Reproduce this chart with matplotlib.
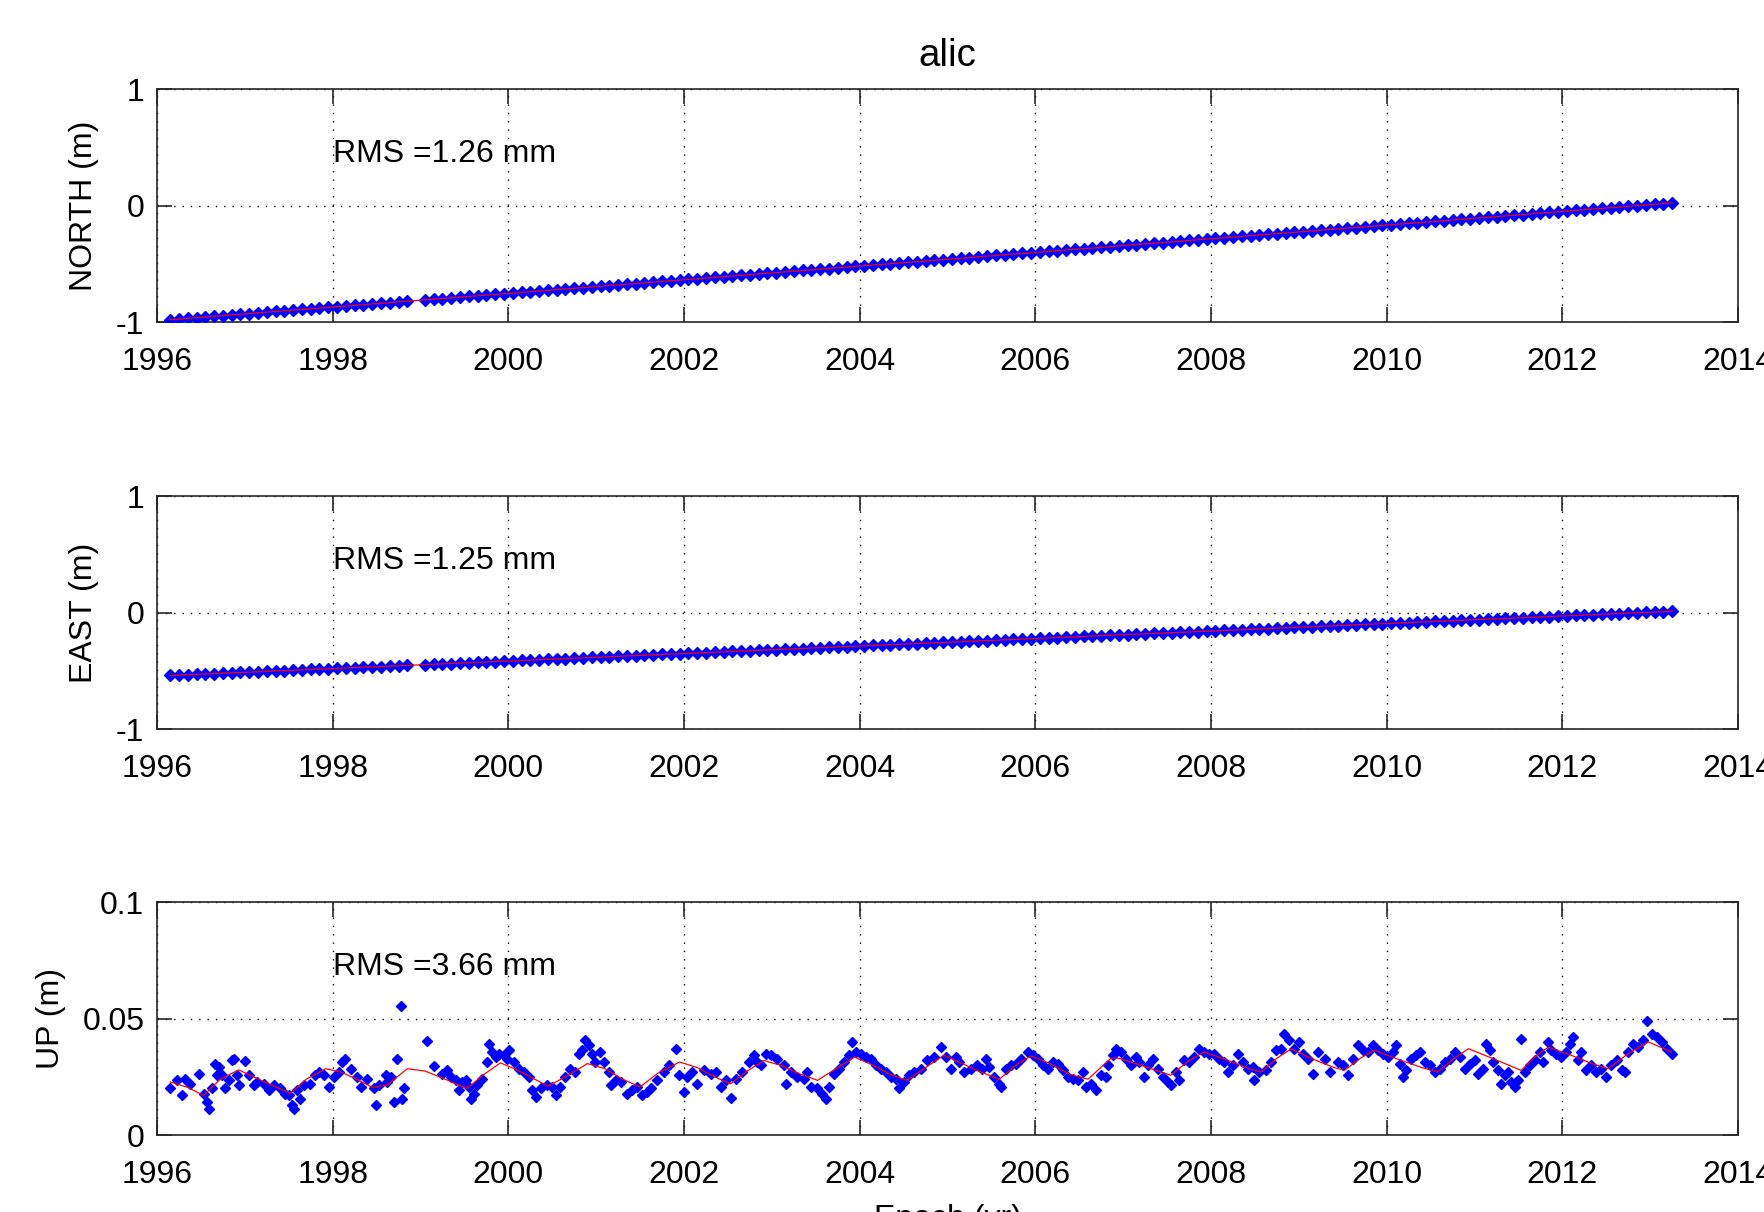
import matplotlib
matplotlib.use('Agg')
import matplotlib.pyplot as plt

plt.rcParams['font.family'] = ['Liberation Sans', 'DejaVu Sans']
plt.rcParams['font.size'] = 23
plt.rcParams['axes.unicode_minus'] = False

station = 'alic'
xticks = [1996, 1998, 2000, 2002, 2004, 2006, 2008, 2010, 2012, 2014]

# epochs of north / east solutions (yr)
ne_t = [
    1996.15, 1996.25, 1996.35, 1996.45, 1996.55, 1996.65, 1996.75, 1996.85, 1996.95,
    1997.05, 1997.15, 1997.25, 1997.35, 1997.45, 1997.55, 1997.65, 1997.75, 1997.85, 1997.95,
    1998.05, 1998.15, 1998.25, 1998.35, 1998.45, 1998.55, 1998.65, 1998.75, 1998.85,
    1999.05, 1999.15, 1999.25, 1999.35, 1999.45, 1999.55, 1999.65, 1999.75, 1999.85, 1999.95,
    2000.05, 2000.15, 2000.25, 2000.35, 2000.45, 2000.55, 2000.65, 2000.75, 2000.85, 2000.95,
    2001.05, 2001.15, 2001.25, 2001.35, 2001.45, 2001.55, 2001.65, 2001.75, 2001.85, 2001.95,
    2002.05, 2002.15, 2002.25, 2002.35, 2002.45, 2002.55, 2002.65, 2002.75, 2002.85, 2002.95,
    2003.05, 2003.15, 2003.25, 2003.35, 2003.45, 2003.55, 2003.65, 2003.75, 2003.85, 2003.95,
    2004.05, 2004.15, 2004.25, 2004.35, 2004.45, 2004.55, 2004.65, 2004.75, 2004.85, 2004.95,
    2005.05, 2005.15, 2005.25, 2005.35, 2005.45, 2005.55, 2005.65, 2005.75, 2005.85, 2005.95,
    2006.05, 2006.15, 2006.25, 2006.35, 2006.45, 2006.55, 2006.65, 2006.75, 2006.85, 2006.95,
    2007.05, 2007.15, 2007.25, 2007.35, 2007.45, 2007.55, 2007.65, 2007.75, 2007.85, 2007.95,
    2008.05, 2008.15, 2008.25, 2008.35, 2008.45, 2008.55, 2008.65, 2008.75, 2008.85, 2008.95,
    2009.05, 2009.15, 2009.25, 2009.35, 2009.45, 2009.55, 2009.65, 2009.75, 2009.85, 2009.95,
    2010.05, 2010.15, 2010.25, 2010.35, 2010.45, 2010.55, 2010.65, 2010.75, 2010.85, 2010.95,
    2011.05, 2011.15, 2011.25, 2011.35, 2011.45, 2011.55, 2011.65, 2011.75, 2011.85, 2011.95,
    2012.05, 2012.15, 2012.25, 2012.35, 2012.45, 2012.55, 2012.65, 2012.75, 2012.85, 2012.95,
    2013.05, 2013.15, 2013.25]

north = [
    -0.980, -0.974, -0.968, -0.962, -0.957, -0.951, -0.945, -0.939, -0.933,
    -0.927, -0.921, -0.915, -0.909, -0.904, -0.898, -0.892, -0.886, -0.880, -0.874,
    -0.868, -0.863, -0.857, -0.851, -0.845, -0.839, -0.833, -0.827, -0.821,
    -0.810, -0.804, -0.798, -0.792, -0.786, -0.780, -0.774, -0.769, -0.763, -0.757,
    -0.751, -0.745, -0.739, -0.734, -0.728, -0.722, -0.716, -0.710, -0.704, -0.698,
    -0.692, -0.687, -0.681, -0.675, -0.669, -0.663, -0.657, -0.651, -0.645, -0.640,
    -0.634, -0.628, -0.622, -0.616, -0.610, -0.604, -0.599, -0.593, -0.587, -0.581,
    -0.575, -0.569, -0.563, -0.557, -0.552, -0.546, -0.540, -0.534, -0.528, -0.522,
    -0.516, -0.510, -0.505, -0.499, -0.493, -0.487, -0.481, -0.475, -0.469, -0.463,
    -0.458, -0.452, -0.446, -0.440, -0.434, -0.428, -0.422, -0.416, -0.411, -0.405,
    -0.399, -0.393, -0.387, -0.381, -0.375, -0.369, -0.364, -0.358, -0.352, -0.346,
    -0.340, -0.334, -0.328, -0.323, -0.317, -0.311, -0.305, -0.299, -0.293, -0.287,
    -0.281, -0.276, -0.270, -0.264, -0.258, -0.252, -0.246, -0.240, -0.235, -0.229,
    -0.223, -0.217, -0.211, -0.205, -0.199, -0.193, -0.188, -0.182, -0.176, -0.170,
    -0.164, -0.158, -0.152, -0.147, -0.141, -0.135, -0.129, -0.123, -0.117, -0.111,
    -0.105, -0.100, -0.094, -0.088, -0.082, -0.076, -0.070, -0.064, -0.058, -0.053,
    -0.047, -0.041, -0.035, -0.029, -0.023, -0.017, -0.012, -0.006, 0.000, 0.006,
    0.012, 0.018, 0.024]

east = [
    -0.540, -0.537, -0.534, -0.530, -0.527, -0.524, -0.521, -0.517, -0.514,
    -0.511, -0.508, -0.504, -0.501, -0.498, -0.495, -0.492, -0.488, -0.485, -0.482,
    -0.479, -0.476, -0.472, -0.469, -0.466, -0.463, -0.459, -0.456, -0.453,
    -0.446, -0.443, -0.440, -0.437, -0.433, -0.430, -0.427, -0.424, -0.420, -0.417,
    -0.414, -0.411, -0.408, -0.404, -0.401, -0.398, -0.395, -0.391, -0.388, -0.385,
    -0.382, -0.379, -0.375, -0.372, -0.369, -0.366, -0.362, -0.359, -0.356, -0.353,
    -0.350, -0.346, -0.343, -0.340, -0.337, -0.333, -0.330, -0.327, -0.324, -0.320,
    -0.317, -0.314, -0.311, -0.308, -0.304, -0.301, -0.298, -0.295, -0.291, -0.288,
    -0.285, -0.282, -0.279, -0.275, -0.272, -0.269, -0.266, -0.262, -0.259, -0.256,
    -0.253, -0.250, -0.246, -0.243, -0.240, -0.237, -0.233, -0.230, -0.227, -0.224,
    -0.221, -0.217, -0.214, -0.211, -0.208, -0.204, -0.201, -0.198, -0.195, -0.191,
    -0.188, -0.185, -0.182, -0.179, -0.175, -0.172, -0.169, -0.166, -0.162, -0.159,
    -0.156, -0.153, -0.150, -0.146, -0.143, -0.140, -0.137, -0.133, -0.130, -0.127,
    -0.124, -0.121, -0.117, -0.114, -0.111, -0.108, -0.104, -0.101, -0.098, -0.095,
    -0.092, -0.088, -0.085, -0.082, -0.079, -0.075, -0.072, -0.069, -0.066, -0.062,
    -0.059, -0.056, -0.053, -0.050, -0.046, -0.043, -0.040, -0.037, -0.033, -0.030,
    -0.027, -0.024, -0.021, -0.017, -0.014, -0.011, -0.008, -0.004, -0.001, 0.002,
    0.005, 0.008, 0.012]

# up component, epochs and values (m)
up_t = [
    1996.152, 1996.228, 1996.285, 1996.323, 1996.380, 1996.475, 1996.532, 1996.570, 1996.589, 1996.627,
    1996.665, 1996.684, 1996.703, 1996.741, 1996.779, 1996.817, 1996.855, 1996.874, 1996.912, 1996.931,
    1997.007, 1997.045, 1997.102, 1997.140, 1997.216, 1997.273, 1997.330, 1997.406, 1997.462, 1997.500,
    1997.538, 1997.557, 1997.595, 1997.633, 1997.671, 1997.747, 1997.804, 1997.842, 1997.899, 1997.956,
    1998.013, 1998.070, 1998.108, 1998.146, 1998.203, 1998.279, 1998.317, 1998.393, 1998.469, 1998.488,
    1998.526, 1998.602, 1998.621, 1998.659, 1998.697, 1998.735, 1998.773, 1998.792, 1998.811,
    1999.077, 1999.153, 1999.248, 1999.305, 1999.343, 1999.400, 1999.438, 1999.476, 1999.514, 1999.552,
    1999.571, 1999.609, 1999.647, 1999.704, 1999.761, 1999.780, 1999.818, 1999.856, 1999.894, 1999.951,
    1999.989, 2000.008, 2000.065, 2000.122, 2000.178, 2000.236, 2000.274, 2000.311, 2000.368, 2000.444,
    2000.501, 2000.539, 2000.593, 2000.650, 2000.707, 2000.764, 2000.802, 2000.840, 2000.878, 2000.916,
    2000.954, 2000.992, 2001.049, 2001.087, 2001.144, 2001.163, 2001.220, 2001.277, 2001.353, 2001.410,
    2001.467, 2001.524, 2001.581, 2001.619, 2001.695, 2001.771, 2001.828, 2001.903, 2001.942, 2001.998,
    2002.037, 2002.093, 2002.150, 2002.226, 2002.302, 2002.359, 2002.416, 2002.473, 2002.530, 2002.587,
    2002.663, 2002.739, 2002.796, 2002.834, 2002.872, 2002.929, 2002.986, 2003.062, 2003.138, 2003.157,
    2003.214, 2003.290, 2003.366, 2003.404, 2003.442, 2003.518, 2003.575, 2003.613, 2003.651, 2003.708,
    2003.765, 2003.822, 2003.879, 2003.917, 2003.955, 2004.012, 2004.069, 2004.126, 2004.183, 2004.240,
    2004.297, 2004.354, 2004.411, 2004.449, 2004.506, 2004.563, 2004.620, 2004.696, 2004.771, 2004.847,
    2004.923, 2004.980, 2005.037, 2005.094, 2005.132, 2005.189, 2005.265, 2005.341, 2005.398, 2005.436,
    2005.474, 2005.531, 2005.588, 2005.607, 2005.664, 2005.721, 2005.778, 2005.835, 2005.911, 2005.968,
    2006.025, 2006.082, 2006.139, 2006.196, 2006.253, 2006.310, 2006.366, 2006.423, 2006.480, 2006.537,
    2006.575, 2006.632, 2006.689, 2006.746, 2006.803, 2006.822, 2006.879, 2006.917, 2006.974, 2007.031,
    2007.088, 2007.145, 2007.183, 2007.240, 2007.278, 2007.335, 2007.392, 2007.449, 2007.506, 2007.544,
    2007.601, 2007.639, 2007.696, 2007.753, 2007.810, 2007.867, 2007.924, 2007.981, 2008.038, 2008.095,
    2008.152, 2008.190, 2008.247, 2008.304, 2008.361, 2008.418, 2008.475, 2008.494, 2008.551, 2008.627,
    2008.684, 2008.741, 2008.798, 2008.836, 2008.893, 2008.950, 2009.007, 2009.045, 2009.102, 2009.159,
    2009.216, 2009.292, 2009.349, 2009.444, 2009.501, 2009.558, 2009.615, 2009.672, 2009.729, 2009.786,
    2009.843, 2009.900, 2009.957, 2010.014, 2010.071, 2010.109, 2010.147, 2010.185, 2010.223, 2010.280,
    2010.337, 2010.375, 2010.432, 2010.489, 2010.546, 2010.603, 2010.660, 2010.717, 2010.774, 2010.830,
    2010.887, 2010.944, 2011.001, 2011.039, 2011.096, 2011.134, 2011.172, 2011.210, 2011.267, 2011.305,
    2011.343, 2011.381, 2011.419, 2011.457, 2011.495, 2011.533, 2011.571, 2011.628, 2011.685, 2011.742,
    2011.780, 2011.837, 2011.875, 2011.932, 2011.989, 2012.046, 2012.084, 2012.122, 2012.179, 2012.217,
    2012.274, 2012.331, 2012.388, 2012.445, 2012.502, 2012.559, 2012.616, 2012.673, 2012.711, 2012.749,
    2012.806, 2012.863, 2012.920, 2012.958, 2013.015, 2013.072, 2013.129, 2013.186, 2013.243]

up = [
    0.0202, 0.0235, 0.0174, 0.0242, 0.0221, 0.0264, 0.0178, 0.0142, 0.0114, 0.0200,
    0.0307, 0.0257, 0.0293, 0.0257, 0.0200, 0.0235, 0.0321, 0.0328, 0.0257, 0.0214,
    0.0317, 0.0257, 0.0214, 0.0228, 0.0221, 0.0192, 0.0214, 0.0202, 0.0178, 0.0171,
    0.0128, 0.0114, 0.0192, 0.0157, 0.0214, 0.0221, 0.0257, 0.0271, 0.0257, 0.0207,
    0.0250, 0.0271, 0.0314, 0.0328, 0.0285, 0.0250, 0.0207, 0.0242, 0.0200, 0.0128,
    0.0214, 0.0257, 0.0228, 0.0250, 0.0142, 0.0328, 0.0554, 0.0157, 0.0200,
    0.0404, 0.0297, 0.0264, 0.0278, 0.0250, 0.0235, 0.0192, 0.0228, 0.0235, 0.0207,
    0.0157, 0.0178, 0.0214, 0.0242, 0.0314, 0.0393, 0.0357, 0.0335, 0.0350, 0.0343,
    0.0328, 0.0364, 0.0314, 0.0285, 0.0271, 0.0250, 0.0192, 0.0164, 0.0200, 0.0214,
    0.0207, 0.0171, 0.0207, 0.0250, 0.0285, 0.0271, 0.0350, 0.0364, 0.0407, 0.0386,
    0.0350, 0.0314, 0.0357, 0.0314, 0.0271, 0.0214, 0.0235, 0.0228, 0.0178, 0.0192,
    0.0207, 0.0171, 0.0185, 0.0200, 0.0235, 0.0271, 0.0300, 0.0368, 0.0257, 0.0185,
    0.0250, 0.0271, 0.0221, 0.0278, 0.0264, 0.0271, 0.0207, 0.0235, 0.0161, 0.0242,
    0.0271, 0.0314, 0.0343, 0.0314, 0.0300, 0.0350, 0.0343, 0.0328, 0.0300, 0.0221,
    0.0271, 0.0250, 0.0242, 0.0271, 0.0207, 0.0200, 0.0178, 0.0157, 0.0207, 0.0264,
    0.0285, 0.0314, 0.0343, 0.0400, 0.0357, 0.0350, 0.0335, 0.0328, 0.0300, 0.0285,
    0.0271, 0.0250, 0.0242, 0.0200, 0.0228, 0.0257, 0.0271, 0.0285, 0.0321, 0.0335,
    0.0378, 0.0335, 0.0285, 0.0335, 0.0314, 0.0271, 0.0285, 0.0300, 0.0285, 0.0328,
    0.0293, 0.0250, 0.0221, 0.0207, 0.0285, 0.0300, 0.0307, 0.0328, 0.0357, 0.0343,
    0.0328, 0.0300, 0.0285, 0.0314, 0.0307, 0.0278, 0.0250, 0.0242, 0.0235, 0.0271,
    0.0207, 0.0221, 0.0192, 0.0257, 0.0250, 0.0300, 0.0343, 0.0371, 0.0357, 0.0328,
    0.0300, 0.0335, 0.0314, 0.0250, 0.0300, 0.0328, 0.0285, 0.0250, 0.0228, 0.0214,
    0.0271, 0.0235, 0.0321, 0.0314, 0.0335, 0.0371, 0.0357, 0.0350, 0.0350, 0.0328,
    0.0314, 0.0271, 0.0300, 0.0350, 0.0314, 0.0285, 0.0293, 0.0235, 0.0271, 0.0278,
    0.0314, 0.0364, 0.0371, 0.0436, 0.0407, 0.0371, 0.0400, 0.0350, 0.0328, 0.0264,
    0.0357, 0.0328, 0.0271, 0.0314, 0.0300, 0.0257, 0.0328, 0.0386, 0.0364, 0.0357,
    0.0386, 0.0364, 0.0350, 0.0335, 0.0357, 0.0386, 0.0307, 0.0250, 0.0278, 0.0328,
    0.0343, 0.0357, 0.0314, 0.0300, 0.0271, 0.0285, 0.0314, 0.0328, 0.0357, 0.0335,
    0.0285, 0.0307, 0.0321, 0.0264, 0.0285, 0.0393, 0.0364, 0.0314, 0.0278, 0.0221,
    0.0257, 0.0271, 0.0228, 0.0207, 0.0235, 0.0411, 0.0271, 0.0300, 0.0321, 0.0357,
    0.0314, 0.0400, 0.0364, 0.0350, 0.0335, 0.0357, 0.0393, 0.0421, 0.0321, 0.0357,
    0.0278, 0.0300, 0.0271, 0.0285, 0.0250, 0.0300, 0.0321, 0.0278, 0.0271, 0.0357,
    0.0393, 0.0378, 0.0407, 0.0489, 0.0436, 0.0421, 0.0400, 0.0371, 0.0350]

# fitted seasonal model for up (m)
up_model_t = [
    1996.15, 1996.35, 1996.53, 1996.72, 1996.93, 1997.10, 1997.30, 1997.52, 1997.70, 1997.92,
    1998.10, 1998.30, 1998.45, 1998.62, 1998.85, 1999.05, 1999.25, 1999.53, 1999.72, 1999.91,
    2000.10, 2000.30, 2000.45, 2000.65, 2000.90, 2001.10, 2001.30, 2001.50, 2001.70, 2001.95,
    2002.15, 2002.35, 2002.53, 2002.72, 2002.91, 2003.10, 2003.30, 2003.52, 2003.75, 2003.94,
    2004.15, 2004.35, 2004.54, 2004.75, 2004.96, 2005.15, 2005.35, 2005.59, 2005.78, 2005.95,
    2006.15, 2006.40, 2006.60, 2006.86, 2006.95, 2007.20, 2007.54, 2007.75, 2007.92, 2008.20,
    2008.40, 2008.57, 2008.75, 2008.91, 2009.20, 2009.40, 2009.52, 2009.70, 2009.86, 2010.17,
    2010.40, 2010.58, 2010.77, 2010.93, 2011.20, 2011.53, 2011.70, 2011.84, 2012.12, 2012.35,
    2012.52, 2012.75, 2012.98, 2013.24]
up_model = [
    0.0228, 0.0205, 0.0170, 0.0240, 0.0280, 0.0250, 0.0215, 0.0180, 0.0240, 0.0285,
    0.0270, 0.0235, 0.0205, 0.0215, 0.0285, 0.0275, 0.0245, 0.0200, 0.0260, 0.0310,
    0.0280, 0.0240, 0.0210, 0.0250, 0.0307, 0.0285, 0.0240, 0.0207, 0.0265, 0.0314,
    0.0290, 0.0250, 0.0220, 0.0275, 0.0320, 0.0300, 0.0265, 0.0235, 0.0290, 0.0335,
    0.0300, 0.0260, 0.0235, 0.0290, 0.0343, 0.0310, 0.0275, 0.0240, 0.0300, 0.0340,
    0.0310, 0.0260, 0.0240, 0.0330, 0.0330, 0.0300, 0.0257, 0.0320, 0.0357, 0.0320,
    0.0290, 0.0270, 0.0330, 0.0370, 0.0320, 0.0290, 0.0278, 0.0330, 0.0364, 0.0320,
    0.0290, 0.0271, 0.0330, 0.0371, 0.0330, 0.0278, 0.0340, 0.0378, 0.0340, 0.0305,
    0.0285, 0.0350, 0.0400, 0.0357]

ylabels = ['NORTH (m)', 'EAST (m)', 'UP (m)']
rms_labels = ['RMS =1.26 mm', 'RMS =1.25 mm', 'RMS =3.66 mm']
ylims = [(-1, 1), (-1, 1), (0, 0.1)]
yticks = [[-1, 0, 1], [-1, 0, 1], [0, 0.05, 0.1]]
yticklabels = [['-1', '0', '1'], ['-1', '0', '1'], ['0', '0.05', '0.1']]
msizes = [6, 6, 5.2]

fig = plt.figure(figsize=(17.64, 12.12), dpi=100)
bottoms = [0.7343, 0.3985, 0.0635]
axes = [fig.add_axes([0.089, b, 0.8963, 0.192]) for b in bottoms]

pts = [(ne_t, north, ne_t, north), (ne_t, east, ne_t, east), (up_t, up, up_model_t, up_model)]
for i, ax in enumerate(axes):
    t, y, mt, my = pts[i]
    ax.plot(t, y, linestyle='none', marker='D', ms=msizes[i], color='blue', mec='blue', zorder=3)
    ax.plot(mt, my, color='red', lw=0.9, zorder=4)
    ax.set_xlim(1996, 2014)
    ax.set_ylim(*ylims[i])
    ax.set_xticks(xticks)
    ax.set_xticklabels([str(x) for x in xticks])
    ax.set_yticks(yticks[i])
    ax.set_yticklabels(yticklabels[i])
    ax.grid(True, color='black', linestyle=(0, (1, 5)), lw=1.0)
    ax.set_axisbelow(True)
    ax.tick_params(direction='in', top=True, right=True, length=11, width=1.2, color='0.15')
    ax.tick_params(axis='x', pad=18)
    ax.tick_params(axis='y', pad=9)
    for s in ax.spines.values():
        s.set_linewidth(1.2)
        s.set_color('0.15')
    ax.set_ylabel(ylabels[i], labelpad=12)
    lo, hi = ylims[i]
    ax.text(1998, lo + 0.72 * (hi - lo), rms_labels[i], va='center', ha='left')

axes[0].set_title(station, pad=17)
axes[2].set_xlabel('Epoch (yr)', labelpad=10)

fig.savefig('out.png', dpi=100)
